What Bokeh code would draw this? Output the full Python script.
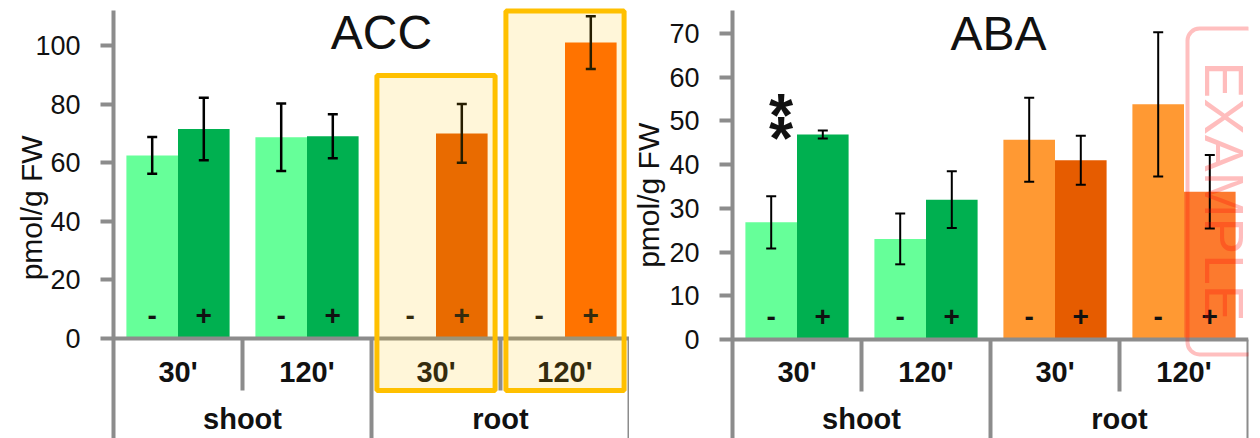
import math
from bokeh.plotting import figure
from bokeh.models import (FactorRange, ColumnDataSource, Whisker, TeeHead, Span,
                          Label, FixedTicker, Range1d)
from bokeh.layouts import row
from bokeh.embed import file_html
from bokeh.resources import INLINE
from bokeh.core.properties import value

# ---------------- data ----------------
organs = ["shoot", "shoot", "shoot", "shoot", "root", "root", "root", "root"]
times = ["30'", "30'", "120'", "120'", "30'", "30'", "120'", "120'"]
treatments = ["-", "+", "-", "+", "-", "+", "-", "+"]

acc_mean = [62.5, 71.5, 68.7, 69.0, None, 70.0, None, 101.0]
acc_err = [6.3, 10.7, 11.5, 7.5, None, 10.0, None, 9.0]
aba_mean = [26.8, 46.9, 23.0, 32.0, 45.7, 41.0, 53.8, 33.8]
aba_err = [6.0, 0.9, 5.8, 6.5, 9.6, 5.6, 16.5, 8.4]

acc_colors = ["#66FF99", "#00B050", "#66FF99", "#00B050",
              "#FF9933", "#E65C00", "#FF9933", "#FF6600"]
aba_colors = ["#66FF99", "#00B050", "#66FF99", "#00B050",
              "#FF9933", "#E65C00", "#FF9933", "#FC7A2E"]

acc_ticks = [0, 20, 40, 60, 80, 100]
aba_ticks = [0, 10, 20, 30, 40, 50, 60, 70]

highlight_groups = [("root", "30'"), ("root", "120'")]
highlight_top = [89.8, 111.8]
significance = [("shoot", "30'", "+")]

# ---------------- style ----------------
FONT = value("Liberation Sans")
GRAY = "#8C8C8C"
INK = "#111111"
H = 438
TOP = 10
FRAME_H = H - TOP
NBSP = "\u00a0"


def make_panel(title, mean, err, colors, ticks, y0, y1, width, mbl, mbr,
               title_xy, label_standoff, label_shift, whisker_w,
               boxes=False, stars=False):
    factors = list(zip(organs, times, treatments))
    xr = FactorRange(*factors, group_padding=0.5, subgroup_padding=0.5,
                     range_padding=0.25, range_padding_units="absolute")
    p = figure(x_range=xr, y_range=Range1d(y0, y1), width=width, height=H,
               output_backend="svg", toolbar_location=None,
               x_axis_location=None, min_border_left=mbl, min_border_right=mbr,
               min_border_top=TOP, min_border_bottom=0, outline_line_color=None,
               background_fill_color="white", border_fill_color="white")
    p.xgrid.visible = False
    p.ygrid.visible = False
    ppu = FRAME_H / (y1 - y0)

    ax = p.yaxis[0]
    ax.ticker = FixedTicker(ticks=ticks)
    ax.axis_line_color = GRAY
    ax.axis_line_width = 4
    ax.major_tick_line_color = GRAY
    ax.major_tick_line_width = 4
    ax.major_tick_out = 13
    ax.major_tick_in = 0
    ax.minor_tick_line_color = None
    ax.major_label_standoff = 20
    ax.major_label_text_font = "Liberation Sans"
    ax.major_label_text_font_size = "27px"
    ax.major_label_text_color = INK
    ax.axis_label = NBSP * label_shift + "pmol/g FW"
    ax.axis_label_standoff = label_standoff
    ax.axis_label_text_font = "Liberation Sans"
    ax.axis_label_text_font_size = "30px"
    ax.axis_label_text_font_style = "normal"
    ax.axis_label_text_color = INK

    keep = [i for i in range(8) if mean[i] is not None]
    src = ColumnDataSource(dict(
        x=[factors[i] for i in keep],
        top=[mean[i] for i in keep],
        upper=[mean[i] + err[i] for i in keep],
        lower=[mean[i] - err[i] for i in keep],
        color=[colors[i] for i in keep]))
    p.vbar(x="x", top="top", width=1.0, source=src, fill_color="color",
           line_color=None)

    # x axis line
    p.add_layout(Span(location=0, dimension="width", line_color=GRAY,
                      line_width=4))

    # group dividers below the axis
    short = -52 / ppu
    groups = [("shoot", "30'"), ("shoot", "120'"), ("root", "30'"), ("root", "120'")]
    p.segment(x0=[g + (1.25,) for g in groups], x1=[g + (1.25,) for g in groups],
              y0=[0] * 4, y1=[short if g[1] == "30'" else y0 for g in groups],
              line_color=GRAY, line_width=4)

    # -/+ inside bars
    p.text(x=factors, y=[0] * 8, text=treatments, y_offset=-23,
           text_align="center", text_baseline="middle", text_font=FONT,
           text_font_style="bold", text_font_size="28px", text_color=INK)
    # time labels
    p.text(x=groups, y=[0] * 4, text=[g[1] for g in groups], y_offset=33,
           text_align="center", text_baseline="middle", text_font=FONT,
           text_font_style="bold", text_font_size="29px", text_color=INK)
    # organ labels
    p.text(x=["shoot", "root"], y=[0, 0], text=["shoot", "root"], y_offset=80,
           text_align="center", text_baseline="middle", text_font=FONT,
           text_font_style="bold", text_font_size="29px", text_color=INK)

    w = Whisker(base="x", upper="upper", lower="lower", source=src,
                line_color="black", line_width=whisker_w, level="annotation",
                upper_head=TeeHead(size=10, line_color="black", line_width=whisker_w),
                lower_head=TeeHead(size=10, line_color="black", line_width=whisker_w))
    p.add_layout(w)

    if stars:
        for f in significance:
            i = factors.index(f)
            top = mean[i] + err[i]
            for off in (-16, 7):
                p.text(x=[f[:2]], y=[top], text=["*"], x_offset=-16, y_offset=off,
                       text_align="center", text_baseline="alphabetic",
                       text_font=FONT, text_font_style="bold",
                       text_font_size="62px", text_color=INK)

    if boxes:
        bottom = -52 / ppu
        p.rect(x=highlight_groups,
               y=[(t + bottom) / 2 for t in highlight_top],
               width=2.29, height=[t - bottom for t in highlight_top],
               fill_color="#FFC000", fill_alpha=0.15, line_color="#FFC000",
               line_width=5, level="overlay")

    p.add_layout(Label(x=title_xy[0], y=title_xy[1], x_units="screen",
                       y_units="screen", text=title, text_align="center",
                       text_baseline="middle", text_font="Liberation Sans",
                       text_font_size="48px", text_color=INK))
    return p


p1 = make_panel("ACC", acc_mean, acc_err, acc_colors, acc_ticks, -34.13, 111.95,
                629, 113, 0, (268, 406), -16, 4, 2.5, boxes=True)
p2 = make_panel("ABA", aba_mean, aba_err, aba_colors, aba_ticks, -22.65, 75.27,
                631, 100, 12, (266, 405), 1, 7, 2, stars=True)

p2.add_layout(Label(x=491, y=247, x_units="screen", y_units="screen",
                    text="EXAMPLE", angle=-math.pi / 2, text_align="center",
                    text_baseline="middle", text_font="Liberation Sans",
                    text_font_size="55px", text_color="#FF0000", text_alpha=0.26,
                    border_line_color="#FF0000", border_line_alpha=0.25,
                    border_line_width=4, border_radius=12,
                    padding=dict(x=33, y=5)))

layout = row(p1, p2, spacing=0)
open("out.html", "w").write(file_html(layout, INLINE))
